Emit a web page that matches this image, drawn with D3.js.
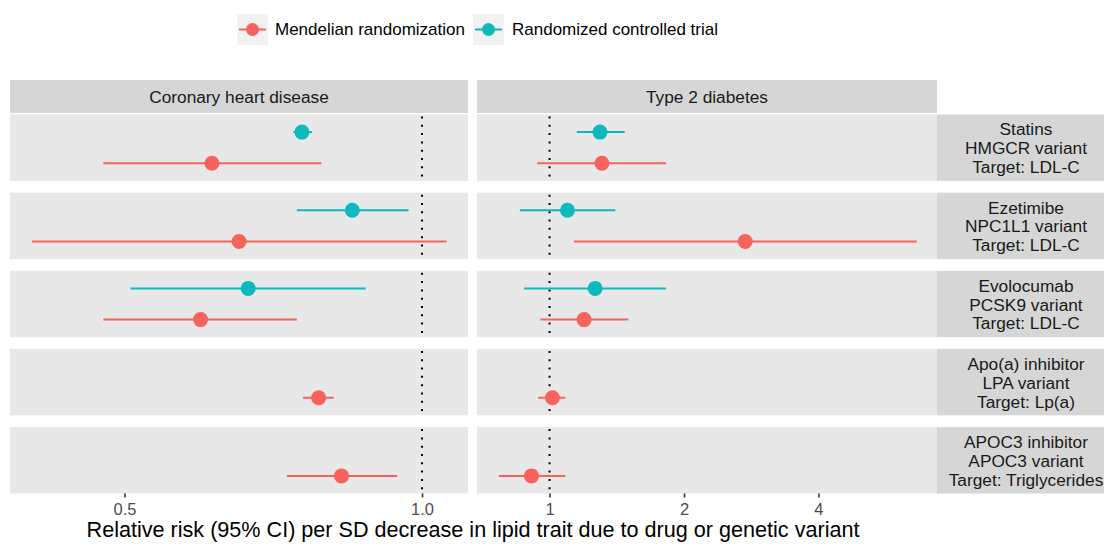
<!DOCTYPE html>
<html>
<head>
<meta charset="utf-8">
<script src="https://cdn.jsdelivr.net/npm/d3@7"></script>
<style>
  html, body { margin: 0; padding: 0; background: #ffffff; }
  svg { display: block; font-family: "Liberation Sans", Arial, sans-serif; }
</style>
</head>
<body>
<svg id="chart" width="1104" height="546"></svg>
<script>
// ---------- data ----------
const outcomes = ["Coronary heart disease", "Type 2 diabetes"];
const rowLabels = [
  ["Statins", "HMGCR variant", "Target: LDL-C"],
  ["Ezetimibe", "NPC1L1 variant", "Target: LDL-C"],
  ["Evolocumab", "PCSK9 variant", "Target: LDL-C"],
  ["Apo(a) inhibitor", "LPA variant", "Target: Lp(a)"],
  ["APOC3 inhibitor", "APOC3 variant", "Target: Triglycerides"]
];
const methods = ["Randomized controlled trial", "Mendelian randomization"];
const legendOrder = ["Mendelian randomization", "Randomized controlled trial"];

// Coronary heart disease
const chdMR    = [0.613, 0.653, 0.597, 0.786, 0.829];
const chdMRlo  = [0.476, 0.403, 0.476, 0.758, 0.730];
const chdMRhi  = [0.791, 1.059, 0.747, 0.814, 0.944];
const chdRCT   = [0.756, 0.850, 0.667, null, null];
const chdRCTlo = [0.741, 0.747, 0.507, null, null];
const chdRCThi = [0.774, 0.969, 0.877, null, null];
// Type 2 diabetes
const t2dMR    = [1.310, 2.742, 1.195, 1.015, 0.911];
const t2dMRlo  = [0.939, 1.134, 0.954, 0.943, 0.770];
const t2dMRhi  = [1.823, 6.640, 1.501, 1.085, 1.085];
const t2dRCT   = [1.297, 1.097, 1.265, null, null];
const t2dRCTlo = [1.151, 0.858, 0.877, null, null];
const t2dRCThi = [1.473, 1.404, 1.823, null, null];

const chdTicks = [0.5, 1.0];
const chdTickLabels = ["0.5", "1.0"];
const t2dTicks = [1, 2, 4];
const t2dTickLabels = ["1", "2", "4"];
const xTitle = "Relative risk (95% CI) per SD decrease in lipid trait due to drug or genetic variant";

// ---------- build records ----------
const records = [];
function addSeries(outcome, method, est, lo, hi) {
  est.forEach((v, i) => {
    if (v == null) return;
    records.push({ outcome, method, row: i, est: v, lo: lo[i], hi: hi[i] });
  });
}
addSeries(outcomes[0], "Mendelian randomization", chdMR, chdMRlo, chdMRhi);
addSeries(outcomes[0], "Randomized controlled trial", chdRCT, chdRCTlo, chdRCThi);
addSeries(outcomes[1], "Mendelian randomization", t2dMR, t2dMRlo, t2dMRhi);
addSeries(outcomes[1], "Randomized controlled trial", t2dRCT, t2dRCTlo, t2dRCThi);

// ---------- layout ----------
const svg = d3.select("#chart");
const colour = d3.scaleOrdinal()
  .domain(["Mendelian randomization", "Randomized controlled trial"])
  .range(["#F5635C", "#0CB9BD"]);
const panelFill = "#E8E8E8", stripFill = "#D6D6D6";

const panelX = {
  [outcomes[0]]: d3.scaleLog().domain([0.383, 1.113]).range([10, 468]),
  [outcomes[1]]: d3.scaleLog().domain([0.688, 7.37]).range([477, 937])
};
const ticks = {
  [outcomes[0]]: { v: chdTicks, l: chdTickLabels },
  [outcomes[1]]: { v: t2dTicks, l: t2dTickLabels }
};

const headerTop = 80, headerBottom = 113;
const rowScale = d3.scaleBand().domain(d3.range(rowLabels.length))
  .range([114.5, 493.5]).paddingInner(0.15);
const withinRow = d3.scalePoint().domain(methods)
  .range([0, rowScale.bandwidth()]).padding(0.565);

const stripX0 = 937, stripX1 = 1117;

// panel backgrounds + headers
outcomes.forEach(o => {
  const x = panelX[o];
  const [x0, x1] = x.range();
  svg.append("rect").attr("x", x0).attr("y", headerTop)
    .attr("width", x1 - x0).attr("height", headerBottom - headerTop)
    .attr("fill", stripFill);
  svg.append("text").attr("x", (x0 + x1) / 2).attr("y", (headerTop + headerBottom) / 2)
    .attr("dy", "0.35em").attr("text-anchor", "middle")
    .attr("font-size", 17.3).attr("fill", "#1A1A1A").text(o);

  rowLabels.forEach((_, r) => {
    svg.append("rect").attr("x", x0).attr("y", rowScale(r))
      .attr("width", x1 - x0).attr("height", rowScale.bandwidth())
      .attr("fill", panelFill);
  });
});

// row strips on right
rowLabels.forEach((lines, r) => {
  const y0 = rowScale(r), h = rowScale.bandwidth();
  svg.append("rect").attr("x", stripX0).attr("y", y0)
    .attr("width", stripX1 - stripX0).attr("height", h).attr("fill", stripFill);
  const t = svg.append("text").attr("text-anchor", "middle")
    .attr("font-size", 17.3).attr("fill", "#1A1A1A");
  const lh = 18.9;
  lines.forEach((ln, k) => {
    t.append("tspan").attr("x", 1026)
      .attr("y", y0 + h / 2 + (k - 1) * lh + 0.5).attr("dy", "0.35em").text(ln);
  });
});

// reference dotted lines at 1
outcomes.forEach(o => {
  const x = panelX[o];
  rowLabels.forEach((_, r) => {
    svg.append("line")
      .attr("x1", x(1)).attr("x2", x(1))
      .attr("y1", rowScale(r) + 2).attr("y2", rowScale(r) + rowScale.bandwidth())
      .attr("stroke", "#000").attr("stroke-width", 2)
      .attr("stroke-dasharray", "2,6.3");
  });
});

// error bars + points
const g = svg.append("g");
g.selectAll("line.ci").data(records).join("line").attr("class", "ci")
  .attr("x1", d => panelX[d.outcome](d.lo))
  .attr("x2", d => panelX[d.outcome](d.hi))
  .attr("y1", d => rowScale(d.row) + withinRow(d.method))
  .attr("y2", d => rowScale(d.row) + withinRow(d.method))
  .attr("stroke", d => colour(d.method)).attr("stroke-width", 2);
g.selectAll("circle.pt").data(records).join("circle").attr("class", "pt")
  .attr("cx", d => panelX[d.outcome](d.est))
  .attr("cy", d => rowScale(d.row) + withinRow(d.method))
  .attr("r", 7.5).attr("fill", d => colour(d.method));

// x axes
outcomes.forEach(o => {
  const x = panelX[o];
  const ax = d3.axisBottom(x).tickValues(ticks[o].v)
    .tickFormat((d, i) => ticks[o].l[i]).tickSize(4).tickPadding(5.5);
  const a = svg.append("g").attr("transform", `translate(0,${493.5})`).call(ax);
  a.select(".domain").remove();
  a.selectAll(".tick line").attr("stroke", "#333333").attr("stroke-width", 1.6);
  a.selectAll(".tick text").attr("fill", "#4D4D4D").attr("font-size", 16.5)
    .attr("font-family", "Liberation Sans, Arial, sans-serif");
});

// axis title
svg.append("text").attr("x", 473).attr("y", 537)
  .attr("text-anchor", "middle").attr("font-size", 21.6).attr("fill", "#000")
  .text(xTitle);

// legend
const legendItems = [
  { m: legendOrder[0], kx: 237, tx: 275 },
  { m: legendOrder[1], kx: 473, tx: 512 }
];
const ly = 29.5;
legendItems.forEach(it => {
  svg.append("rect").attr("x", it.kx).attr("y", ly - 15.5).attr("width", 31).attr("height", 31)
    .attr("fill", "#F2F2F2");
  svg.append("line").attr("x1", it.kx + 2).attr("x2", it.kx + 29)
    .attr("y1", ly).attr("y2", ly).attr("stroke", colour(it.m)).attr("stroke-width", 2);
  svg.append("circle").attr("cx", it.kx + 15.5).attr("cy", ly).attr("r", 6.5)
    .attr("fill", colour(it.m));
  svg.append("text").attr("x", it.tx).attr("y", ly).attr("dy", "0.35em")
    .attr("font-size", 17).attr("fill", "#000").text(it.m);
});
</script>
</body>
</html>
